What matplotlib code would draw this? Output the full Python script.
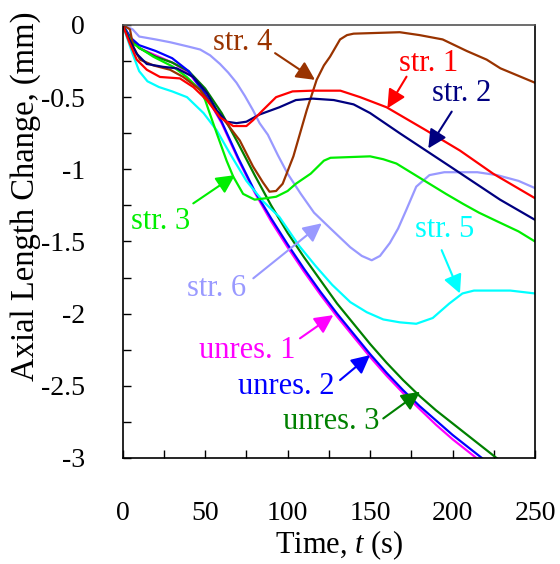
import matplotlib
matplotlib.use("Agg")
import matplotlib.pyplot as plt
from matplotlib.ticker import FixedLocator, FixedFormatter, MultipleLocator

plt.rcParams['font.family'] = ['Liberation Serif', 'DejaVu Serif']
plt.rcParams['mathtext.fontset'] = 'custom'
plt.rcParams['mathtext.it'] = 'Liberation Serif:italic'
plt.rcParams['mathtext.rm'] = 'Liberation Serif'

# ---------------- data (time s, axial length change mm) ----------------
t_str1 = [0, 4, 8.5, 14.6, 22.6, 34.7, 42.8, 51, 59, 67, 75, 79, 85, 93, 103, 115, 132, 144, 160, 184, 204.5, 224.6, 250]
v_str1 = [0, -0.12, -0.24, -0.31, -0.36, -0.37, -0.43, -0.52, -0.64, -0.70, -0.70, -0.66, -0.59, -0.50, -0.46, -0.455, -0.455, -0.50, -0.57, -0.73, -0.87, -1.03, -1.20]

t_str2 = [0, 4, 8.5, 14.6, 24.5, 32.7, 42.8, 51, 57, 63, 69, 75, 83, 95, 105, 115, 128, 140, 150, 168, 198.5, 228.8, 250]
v_str2 = [0, -0.10, -0.20, -0.27, -0.29, -0.30, -0.36, -0.47, -0.59, -0.67, -0.68, -0.67, -0.62, -0.57, -0.52, -0.51, -0.52, -0.55, -0.61, -0.75, -0.98, -1.21, -1.35]

t_str3 = [0, 3, 6.4, 18.6, 30.7, 38.8, 47, 50, 53, 57, 63, 67, 73, 80, 87, 93, 100, 105, 114, 122, 126, 150, 158, 166, 176, 186, 196, 206.5, 216, 227, 240, 250]
v_str3 = [0, -0.07, -0.13, -0.22, -0.29, -0.36, -0.45, -0.52, -0.62, -0.75, -0.94, -1.05, -1.17, -1.21, -1.20, -1.19, -1.15, -1.10, -1.03, -0.94, -0.92, -0.91, -0.93, -0.96, -1.03, -1.10, -1.17, -1.24, -1.30, -1.36, -1.43, -1.50]

t_str4 = [0, 4.4, 6.4, 10.5, 18.6, 28.7, 36.7, 47, 55, 63, 71, 79, 85, 89, 93, 97, 103.5, 111.6, 117.6, 122, 125.7, 131.8, 136, 140, 168, 180, 194, 208.6, 220.7, 229, 250]
v_str4 = [0, -0.03, -0.15, -0.24, -0.28, -0.31, -0.36, -0.45, -0.57, -0.68, -0.80, -0.98, -1.09, -1.155, -1.15, -1.10, -0.91, -0.59, -0.38, -0.28, -0.22, -0.10, -0.07, -0.06, -0.05, -0.07, -0.10, -0.18, -0.24, -0.30, -0.40]

t_str5 = [0, 3, 6, 10, 15, 22, 30, 39, 49, 57, 65, 75, 85, 95, 107, 117, 127, 138, 148, 158, 168, 178, 188, 198, 206, 213, 220, 235, 250]
v_str5 = [0, -0.10, -0.20, -0.32, -0.39, -0.43, -0.46, -0.50, -0.61, -0.73, -0.89, -1.08, -1.22, -1.33, -1.53, -1.67, -1.80, -1.92, -1.99, -2.04, -2.06, -2.07, -2.03, -1.93, -1.86, -1.84, -1.84, -1.84, -1.86]

t_str6 = [0, 6, 10, 20, 29, 40, 47, 53, 59, 64, 69, 74, 79, 83, 88, 94, 100, 108, 116, 126, 138, 145, 151, 156, 162, 167, 172, 178, 186, 195, 203, 215, 227, 240, 250]
v_str6 = [0, -0.03, -0.08, -0.10, -0.12, -0.15, -0.17, -0.21, -0.27, -0.33, -0.40, -0.49, -0.59, -0.68, -0.76, -0.90, -1.03, -1.17, -1.30, -1.41, -1.54, -1.60, -1.63, -1.60, -1.51, -1.41, -1.28, -1.12, -1.04, -1.02, -1.02, -1.02, -1.04, -1.08, -1.13]

t_unres = [0, 5, 10, 20, 30, 40, 50, 60, 70, 80, 90, 100, 110, 120, 130, 140, 150, 160, 170, 180, 190, 200, 210, 220]
v_unres1 = [0, -0.10, -0.16, -0.21, -0.26, -0.33, -0.48, -0.68, -0.93, -1.16, -1.36, -1.54, -1.71, -1.87, -2.02, -2.16, -2.30, -2.43, -2.55, -2.66, -2.77, -2.87, -2.96, -3.05]
v_unres2 = [0, -0.09, -0.14, -0.18, -0.23, -0.32, -0.48, -0.67, -0.92, -1.15, -1.34, -1.52, -1.69, -1.85, -2.00, -2.14, -2.28, -2.41, -2.53, -2.64, -2.74, -2.84, -2.93, -3.02]

t_unres3 = [0, 5, 10, 20, 30, 40, 50, 60, 70, 80, 90, 100, 110, 120, 130, 140, 150, 160, 170, 180, 190, 200, 210, 220, 230]
v_unres3 = [0, -0.10, -0.16, -0.22, -0.26, -0.32, -0.44, -0.61, -0.82, -1.04, -1.25, -1.44, -1.61, -1.77, -1.93, -2.07, -2.21, -2.34, -2.46, -2.57, -2.67, -2.76, -2.85, -2.94, -3.03]

x_ticks = [0, 50, 100, 150, 200, 250]
x_labels = ['0', '50', '100', '150', '200', '250']
y_ticks = [0, -0.5, -1, -1.5, -2, -2.5, -3]
y_labels = ['0', '-0.5', '-1', '-1.5', '-2', '-2.5', '-3']

# colours
c_str1 = '#ff0000'
c_str2 = '#000080'
c_str3 = '#00ee00'
c_str4 = '#993300'
c_str5 = '#00ffff'
c_str6 = '#9999ff'
c_un1 = '#ff00ff'
c_un2 = '#0000ff'
c_un3 = '#008000'

fig = plt.figure(figsize=(5.6, 5.64), dpi=100)
ax = fig.add_axes([122.7 / 560, 1 - 458 / 564, (535 - 122.7) / 560, (458 - 25) / 564])

lw = 1.6
ax.plot(t_unres, v_unres1, color=c_un1, lw=lw)
ax.plot(t_unres3, v_unres3, color=c_un3, lw=lw)
ax.plot(t_unres, v_unres2, color=c_un2, lw=lw)
ax.plot(t_str5, v_str5, color=c_str5, lw=lw)
ax.plot(t_str6, v_str6, color=c_str6, lw=lw)
ax.plot(t_str3, v_str3, color=c_str3, lw=lw)
ax.plot(t_str4, v_str4, color=c_str4, lw=lw)
ax.plot(t_str2, v_str2, color=c_str2, lw=lw)
ax.plot(t_str1, v_str1, color=c_str1, lw=lw)

ax.set_xlim(0, 250)
ax.set_ylim(-3, 0)

ax.xaxis.set_major_locator(FixedLocator(x_ticks))
ax.xaxis.set_major_formatter(FixedFormatter(x_labels))
ax.yaxis.set_major_locator(FixedLocator(y_ticks))
ax.yaxis.set_major_formatter(FixedFormatter(y_labels))
ax.xaxis.set_minor_locator(MultipleLocator(25))
ax.yaxis.set_minor_locator(MultipleLocator(0.25))
ax.tick_params(which='both', direction='in', length=6, width=1, top=False, right=False)
ax.tick_params(axis='x', which='major', labelsize=20, pad=31)
ax.tick_params(axis='y', which='major', labelsize=20, pad=27)
for s in ax.spines.values():
    s.set_linewidth(1.2)
ax.spines['top'].set_color('#555555')

fig.text(339 / 560, 1 - 545 / 564, 'Time, $t$ (s)', ha='center', va='center', fontsize=22)
fig.text(26 / 560, 1 - 196 / 564, 'Axial Length Change, (mm)', ha='center', va='center',
         rotation=90, fontsize=23.5)

fs = 22
def label(txt, tx, ty, tail, tip, col):
    ax.text(tx, ty, txt, color=col, fontsize=fs, ha='center', va='center')
    ax.annotate('', xy=tip, xytext=tail,
                arrowprops=dict(arrowstyle='-|>', color=col, lw=1.5, mutation_scale=28,
                                shrinkA=0, shrinkB=0))

label('str. 4', 72.5, -0.12, (92.4, -0.195), (116.6, -0.38), c_str4)
label('str. 1', 185.8, -0.265, (172.1, -0.358), (160.5, -0.577), c_str1)
label('str. 2', 205.6, -0.473, (199.5, -0.60), (185.3, -0.855), c_str2)
label('str. 3', 23.2, -1.36, (42.8, -1.236), (68.1, -1.04), c_str3)
label('str. 6', 57, -1.825, (79.2, -1.755), (120.7, -1.374), c_str6)
label('str. 5', 194.9, -1.42, (193.4, -1.56), (204.5, -1.86), c_str5)
label('unres. 1', 75.7, -2.252, (107.5, -2.171), (127.7, -2.01), c_un1)
label('unres. 2', 99.4, -2.506, (131.8, -2.46), (150, -2.287), c_un2)
label('unres. 3', 126.2, -2.749, (158, -2.726), (180.3, -2.541), c_un3)

fig.savefig('out.png', dpi=100)
